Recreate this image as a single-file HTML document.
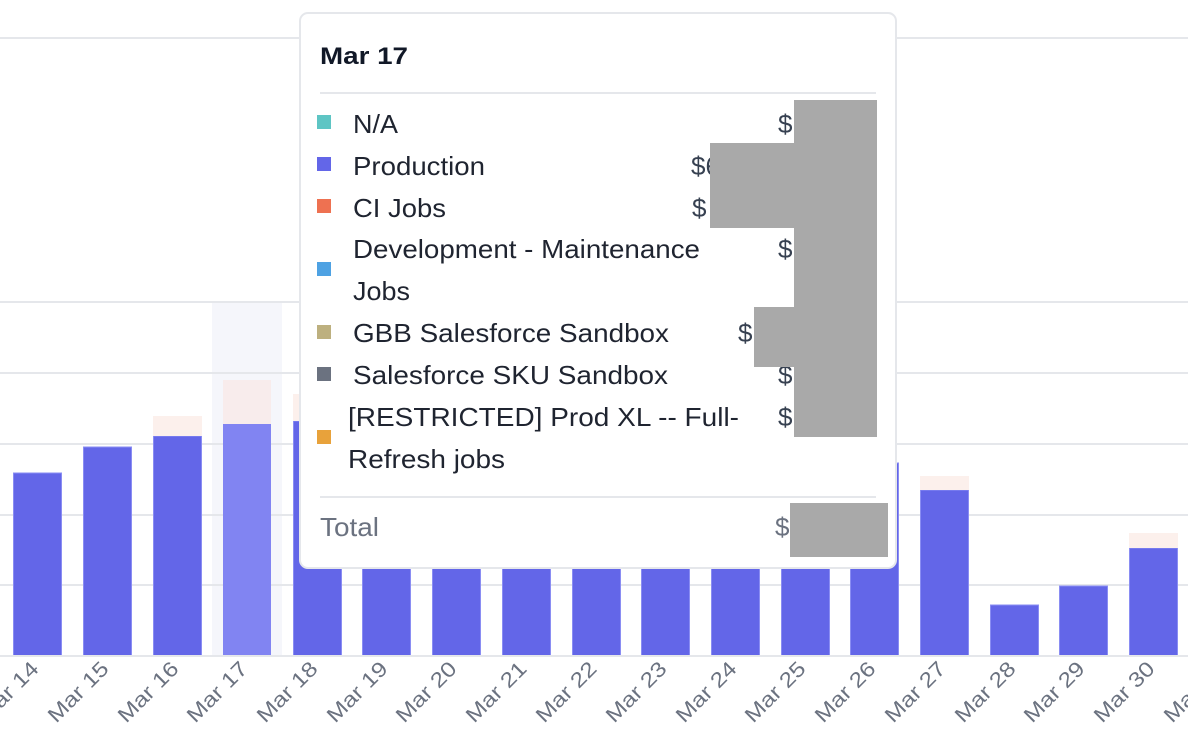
<!DOCTYPE html>
<html><head><meta charset="utf-8"><style>
html,body{margin:0;padding:0;background:#fff;}
svg{display:block;font-family:"Liberation Sans",Arial,sans-serif;}
</style></head><body>
<svg width="1188" height="754" viewBox="0 0 1188 754" xmlns="http://www.w3.org/2000/svg">
<rect x="212" y="302" width="70" height="354" fill="#f5f6fb"/>
<g stroke="#e5e7eb" stroke-width="2">
<line x1="0" y1="38" x2="1188" y2="38"/>
<line x1="0" y1="302" x2="1188" y2="302"/>
<line x1="0" y1="373" x2="1188" y2="373"/>
<line x1="0" y1="444" x2="1188" y2="444"/>
<line x1="0" y1="515" x2="1188" y2="515"/>
<line x1="0" y1="585" x2="1188" y2="585"/>
</g>
<g fill="#6366e8" stroke="#8a8df3" stroke-width="1">
<rect x="13.5" y="473" width="48" height="183"/>
<rect x="83.5" y="447" width="48" height="209"/>
<rect x="153.5" y="436" width="48" height="220"/>
<rect x="293.5" y="421" width="48" height="235"/>
<rect x="362.5" y="430" width="48" height="226"/>
<rect x="432.5" y="430" width="48" height="226"/>
<rect x="502.5" y="430" width="48" height="226"/>
<rect x="572.5" y="430" width="48" height="226"/>
<rect x="641.5" y="430" width="48" height="226"/>
<rect x="711.5" y="430" width="48" height="226"/>
<rect x="781.5" y="430" width="48" height="226"/>
<rect x="850.5" y="463" width="48" height="193"/>
<rect x="920.5" y="490" width="48" height="166"/>
<rect x="990.5" y="605" width="48" height="51"/>
<rect x="1059.5" y="586" width="48" height="70"/>
<rect x="1129.5" y="548" width="48" height="108"/>
</g>
<rect x="223" y="424" width="48" height="232" fill="#8184f2"/>
<g fill="#fcf0ec">
<rect x="153" y="416" width="49" height="20"/>
<rect x="293" y="394" width="49" height="27"/>
<rect x="920" y="476" width="49" height="14"/>
<rect x="1129" y="533" width="49" height="15"/>
</g>
<rect x="223" y="380" width="48" height="44" fill="#f8ecec"/>
<line x1="0" y1="656" x2="1188" y2="656" stroke="#e5e7eb" stroke-width="2"/>
<g fill="#6b7280" font-size="21" text-anchor="end">
<text transform="translate(40,670) rotate(-45)" textLength="76" lengthAdjust="spacingAndGlyphs">Mar 14</text>
<text transform="translate(110,670) rotate(-45)" textLength="76" lengthAdjust="spacingAndGlyphs">Mar 15</text>
<text transform="translate(180,670) rotate(-45)" textLength="76" lengthAdjust="spacingAndGlyphs">Mar 16</text>
<text transform="translate(249,670) rotate(-45)" textLength="76" lengthAdjust="spacingAndGlyphs">Mar 17</text>
<text transform="translate(319,670) rotate(-45)" textLength="76" lengthAdjust="spacingAndGlyphs">Mar 18</text>
<text transform="translate(389,670) rotate(-45)" textLength="76" lengthAdjust="spacingAndGlyphs">Mar 19</text>
<text transform="translate(458,670) rotate(-45)" textLength="76" lengthAdjust="spacingAndGlyphs">Mar 20</text>
<text transform="translate(528,670) rotate(-45)" textLength="76" lengthAdjust="spacingAndGlyphs">Mar 21</text>
<text transform="translate(598,670) rotate(-45)" textLength="76" lengthAdjust="spacingAndGlyphs">Mar 22</text>
<text transform="translate(668,670) rotate(-45)" textLength="76" lengthAdjust="spacingAndGlyphs">Mar 23</text>
<text transform="translate(738,670) rotate(-45)" textLength="76" lengthAdjust="spacingAndGlyphs">Mar 24</text>
<text transform="translate(807,670) rotate(-45)" textLength="76" lengthAdjust="spacingAndGlyphs">Mar 25</text>
<text transform="translate(877,670) rotate(-45)" textLength="76" lengthAdjust="spacingAndGlyphs">Mar 26</text>
<text transform="translate(947,670) rotate(-45)" textLength="76" lengthAdjust="spacingAndGlyphs">Mar 27</text>
<text transform="translate(1017,670) rotate(-45)" textLength="76" lengthAdjust="spacingAndGlyphs">Mar 28</text>
<text transform="translate(1086,670) rotate(-45)" textLength="76" lengthAdjust="spacingAndGlyphs">Mar 29</text>
<text transform="translate(1156,670) rotate(-45)" textLength="76" lengthAdjust="spacingAndGlyphs">Mar 30</text>
<text transform="translate(1226,670) rotate(-45)" textLength="76" lengthAdjust="spacingAndGlyphs">Mar 31</text>
</g>
<rect x="300" y="13" width="596" height="555" rx="8" fill="#fff" stroke="#e5e7eb" stroke-width="2"/>
<text x="320" y="64" font-size="24" font-weight="bold" fill="#111827" textLength="88" lengthAdjust="spacingAndGlyphs">Mar 17</text>
<line x1="320" y1="93" x2="876" y2="93" stroke="#e5e7eb" stroke-width="2"/>
<line x1="320" y1="497" x2="876" y2="497" stroke="#e5e7eb" stroke-width="2"/>
<rect x="317" y="115" width="14" height="14" fill="#5ec5c4"/>
<rect x="317" y="157" width="14" height="14" fill="#6366e8"/>
<rect x="317" y="199" width="14" height="14" fill="#ee7151"/>
<rect x="317" y="262" width="14" height="14" fill="#4ea2e3"/>
<rect x="317" y="325" width="14" height="14" fill="#bdb07f"/>
<rect x="317" y="367" width="14" height="14" fill="#6b7280"/>
<rect x="317" y="430" width="14" height="14" fill="#e8a23b"/>
<g font-size="26" fill="#1f2430" lengthAdjust="spacingAndGlyphs">
<text x="353" y="133" textLength="45" lengthAdjust="spacingAndGlyphs">N/A</text>
<text x="353" y="175" textLength="132" lengthAdjust="spacingAndGlyphs">Production</text>
<text x="353" y="217" textLength="93" lengthAdjust="spacingAndGlyphs">CI Jobs</text>
<text x="353" y="258" textLength="347" lengthAdjust="spacingAndGlyphs">Development - Maintenance</text>
<text x="353" y="300" textLength="57" lengthAdjust="spacingAndGlyphs">Jobs</text>
<text x="353" y="342" textLength="316" lengthAdjust="spacingAndGlyphs">GBB Salesforce Sandbox</text>
<text x="353" y="384" textLength="315" lengthAdjust="spacingAndGlyphs">Salesforce SKU Sandbox</text>
<text x="348" y="426" textLength="391" lengthAdjust="spacingAndGlyphs">[RESTRICTED] Prod XL -- Full-</text>
<text x="348" y="468" textLength="157" lengthAdjust="spacingAndGlyphs">Refresh jobs</text>
</g>
<text x="320" y="536" font-size="26" fill="#6b7280" textLength="59" lengthAdjust="spacingAndGlyphs">Total</text>
<g font-size="26" fill="#374151">
<text x="778" y="133">$</text>
<text x="691" y="175">$6</text>
<text x="692" y="217">$</text>
<text x="778" y="258">$</text>
<text x="738" y="342">$</text>
<text x="778" y="384">$</text>
<text x="778" y="426">$</text>
<text x="775" y="536" fill="#6b7280">$</text>
</g>
<g fill="#a9a9a9">
<rect x="794" y="100" width="83" height="337"/>
<rect x="710" y="143" width="84" height="85"/>
<rect x="754" y="307" width="40" height="60"/>
<rect x="790" y="503" width="98" height="54"/>
</g>
</svg>
</body></html>
